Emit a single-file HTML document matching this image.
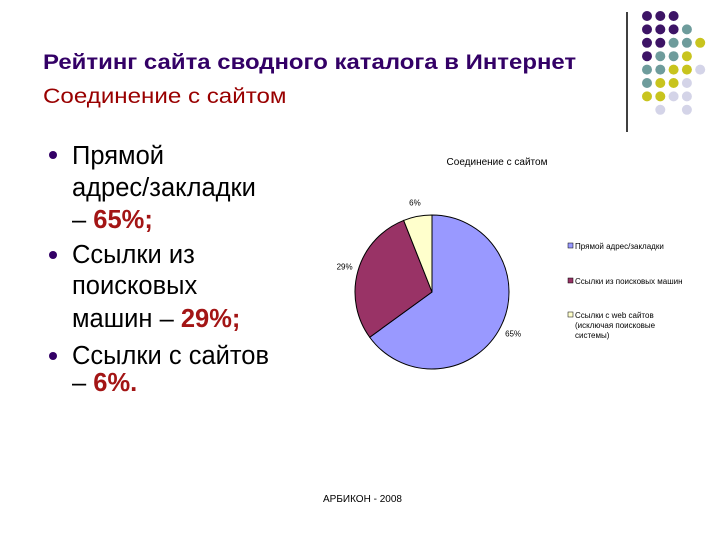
<!DOCTYPE html>
<html><head><meta charset="utf-8">
<style>
body{margin:0;background:#fff;}
#page{position:relative;width:720px;height:540px;overflow:hidden;font-family:"Liberation Sans",sans-serif;}
.t{position:absolute;white-space:nowrap;line-height:1;}
.ln{position:absolute;left:72px;font-size:25.5px;color:#000;white-space:nowrap;line-height:1;}
.b{position:absolute;left:49px;width:8px;height:8px;border-radius:50%;background:#330066;}
.r{color:#a31515;font-weight:bold;}
</style></head><body>
<div id="page">
<svg width="720" height="540" style="position:absolute;left:0;top:0" id="dots"></svg>
<div class="t" style="left:43px;top:52px;font-size:19px;font-weight:bold;color:#330066;transform:scale(1.26,1.12);transform-origin:0 0">Рейтинг сайта сводного каталога в Интернет</div>
<div class="t" style="left:43px;top:86px;font-size:19px;color:#990000;transform:scale(1.27,1.12);transform-origin:0 0">Соединение с сайтом</div>

<div class="b" style="top:151px"></div>
<div class="ln" style="top:144px">Прямой</div>
<div class="ln" style="top:176px">адрес/закладки</div>
<div class="ln" style="top:208px">– <span class="r">65%;</span></div>
<div class="b" style="top:251px"></div>
<div class="ln" style="top:243px">Ссылки из</div>
<div class="ln" style="top:274px">поисковых</div>
<div class="ln" style="top:307px">машин – <span class="r">29%;</span></div>
<div class="b" style="top:352px"></div>
<div class="ln" style="top:344px">Ссылки с сайтов</div>
<div class="ln" style="top:371px">– <span class="r">6%.</span></div>

<svg id="chart" width="720" height="540" style="position:absolute;left:0;top:0">
<text x="497" y="165" font-size="10" text-anchor="middle" font-family="Liberation Sans">Соединение с сайтом</text>
</svg>
<div class="t" style="left:323px;top:495px;font-size:10px">АРБИКОН - 2008</div>
</div>
<script>
const categories=["Прямой адрес/закладки","Ссылки из поисковых машин","Ссылки с web сайтов (исключая поисковые системы)"];
const values=[65,29,6];
const colors=["#9999ff","#993366","#ffffcc"];
const labels=["65%","29%","6%"];
const NS="http://www.w3.org/2000/svg";
const svg=document.getElementById('chart');
const cx=432,cy=292,R=77;
const total=values.reduce((a,b)=>a+b,0);
let a0=0;
function pt(a,r){return [cx+r*Math.sin(a),cy-r*Math.cos(a)];}
values.forEach((v,i)=>{
  const a1=a0+v/total*2*Math.PI;
  const p0=pt(a0,R),p1=pt(a1,R);
  const large=(a1-a0)>Math.PI?1:0;
  const p=document.createElementNS(NS,'path');
  p.setAttribute('d',`M${cx},${cy}L${p0[0]},${p0[1]}A${R},${R} 0 ${large} 1 ${p1[0]},${p1[1]}Z`);
  p.setAttribute('fill',colors[i]);p.setAttribute('stroke','#000');p.setAttribute('stroke-width','1');
  
  
  svg.appendChild(p);
  const am=(a0+a1)/2;const lp=pt(am,R+14);
  const t=document.createElementNS(NS,'text');
  t.setAttribute('x',lp[0]);t.setAttribute('y',lp[1]+3);t.setAttribute('font-size','8');
  t.setAttribute('text-anchor','middle');t.setAttribute('font-family','Liberation Sans');
  t.textContent=labels[i];
  
  
  svg.appendChild(t);
  a0=a1;
});
const ly=[247,282,316];
const legendLines=[["Прямой адрес/закладки"],["Ссылки из поисковых машин"],["Ссылки с web сайтов","(исключая поисковые","системы)"]];
legendLines.forEach((lines,i)=>{
  const r=document.createElementNS(NS,'rect');
  r.setAttribute('x',568);r.setAttribute('y',ly[i]-4);r.setAttribute('width',5);r.setAttribute('height',5);
  r.setAttribute('fill',colors[i]);r.setAttribute('stroke','#000');r.setAttribute('stroke-width','0.5');
  
  
  svg.appendChild(r);
  lines.forEach((s,j)=>{
    const t=document.createElementNS(NS,'text');
    t.setAttribute('x',575);t.setAttribute('y',ly[i]+2+j*10);t.setAttribute('font-size','8');
    t.setAttribute('font-family','Liberation Sans');t.textContent=s;
    
    
    svg.appendChild(t);
  });
});
const d=document.getElementById('dots');
const grid=["PPP..","PPPT.","PPTTY","PTTY.","TTYYL","TYYL.","YYLL.",".L.L."];
const dc={P:"#3d1466",T:"#6e9c9c",Y:"#c8c41e",L:"#d4d4e8"};
const ln=document.createElementNS(NS,'line');
ln.setAttribute('x1',627);ln.setAttribute('x2',627);ln.setAttribute('y1',12);ln.setAttribute('y2',132);
ln.setAttribute('stroke','#000');ln.setAttribute('stroke-width','1.5');
d.appendChild(ln);
grid.forEach((row,r)=>{[...row].forEach((c,k)=>{if(c==='.')return;
  const ci=document.createElementNS(NS,'circle');
  ci.setAttribute('cx',647+k*13.3);ci.setAttribute('cy',16+r*13.4);ci.setAttribute('r',5);ci.setAttribute('fill',dc[c]);
  d.appendChild(ci);});});
</script>
</body></html>
